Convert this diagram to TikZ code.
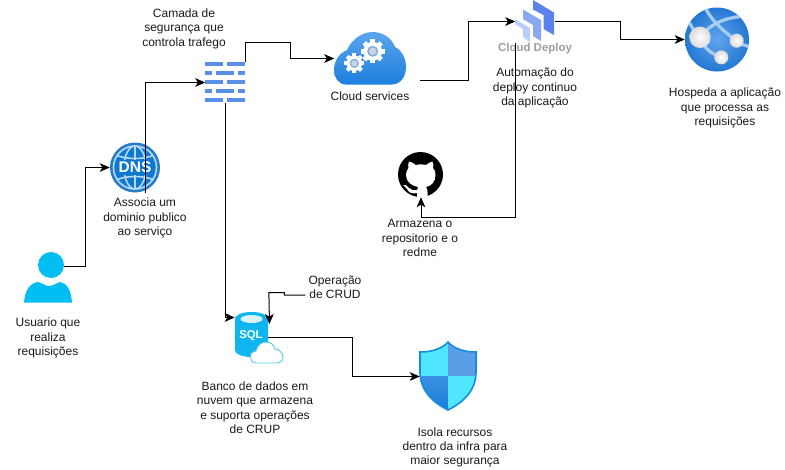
\documentclass[tikz,border=0pt]{standalone}
\usepackage{fontspec}
\setmainfont{Liberation Sans}
\usetikzlibrary{arrows.meta}
\definecolor{ink}{HTML}{1A1A1A}
\definecolor{wall}{HTML}{5A8FE8}
\definecolor{usr}{HTML}{00BEF2}
\definecolor{sqlc}{HTML}{0FB5EE}
\definecolor{dnsa}{HTML}{2A7CC8}
\definecolor{dnsb}{HTML}{0F78D0}
\definecolor{dnsc}{HTML}{B5D9F2}
\definecolor{clouda}{HTML}{5CA5EC}
\definecolor{cloudb}{HTML}{1D7FDE}
\definecolor{geara}{HTML}{7FA8D8}
\definecolor{gearb}{HTML}{C8D4E4}
\definecolor{depa}{HTML}{5B82EC}
\definecolor{depb}{HTML}{8AA8F2}
\definecolor{depc}{HTML}{BACEFB}
\definecolor{weba}{HTML}{2378D2}
\definecolor{webb}{HTML}{62A4F0}
\definecolor{webc}{HTML}{A8CDF2}
\definecolor{shc}{HTML}{50E6FF}
\definecolor{shb}{HTML}{5B9EE8}
\definecolor{shd}{HTML}{1A7FD8}
\definecolor{she}{HTML}{3A90E2}
\tikzset{
 x=0.75pt,y=-0.75pt,
 lbl/.style={align=center,inner sep=0pt,text=ink,font=\fontsize{9}{10.8}\selectfont},
 iconbox/.style 2 args={inner sep=0pt,minimum width=#1*0.75pt,minimum height=#2*0.75pt},
 conn/.style={draw=black,line width=0.75pt,-{Stealth[length=7.5pt,width=6.5pt,inset=2pt]}},
 band/.style={webc,line width=2.4pt},
}
\newcommand{\gearicon}[3]{%
 \foreach \a in {0,45,90,135}{\fill[white,shift={(#1,#2)},rotate=\a] (-#3*0.2,-#3) rectangle (#3*0.2,#3);}
 \fill[white] (#1,#2) circle (#3*0.78);
 \fill[geara] (#1,#2) circle (#3*0.46);
 \fill[gearb] (#1,#2) circle (#3*0.32);
}
\begin{document}
\begin{tikzpicture}
\useasboundingbox (0,0) rectangle (785,469);
\fill[white] (0,0) rectangle (785,469);

% ---- user
\fill[usr] (51,265) circle (13);
\fill[usr] (24,302.5) .. controls (25,290) and (30,283) .. (38,282) .. controls (42,283) and (46,286) .. (49,286) .. controls (53,286) and (56,283) .. (60,282) .. controls (67,283) and (71,290) .. (72,302.5) -- cycle;
\node[iconbox={48}{51}] (user) at (48,277.5) {};

% ---- DNS
\fill[dnsa] (135,167.5) circle (25);
\fill[dnsb] (135,167.5) circle (21.5);
\begin{scope}[draw=dnsc,line width=1.2pt]
\draw (135,167.5) circle (21.5);
\draw (135,167.5) ellipse (11 and 21.5);
\draw (135,146) -- (135,189);
\draw (117,155.5) .. controls (128,159.5) and (142,159.5) .. (153,155.5);
\draw (117,179.5) .. controls (128,175.5) and (142,175.5) .. (153,179.5);
\end{scope}
\fill[dnsb] (117,160) rectangle (153,175);
\node[inner sep=0pt,text=white,font=\bfseries\fontsize{11.6}{12}\selectfont] (dnstext) at (135,167.5) {DNS};
\node[iconbox={50}{50}] (dns) at (135,167.5) {};

% ---- firewall
\begin{scope}[wall]
\fill (205,62) rectangle (223,66);\fill (227,62) rectangle (245,66);
\fill (205,71) rectangle (212,75);\fill (216,71) rectangle (234,75);\fill (238,71) rectangle (245,75);
\fill (205,80) rectangle (223,84);\fill (227,80) rectangle (245,84);
\fill (205,89) rectangle (212,93);\fill (216,89) rectangle (234,93);\fill (238,89) rectangle (245,93);
\fill (205,97.5) rectangle (223,102);\fill (227,97.5) rectangle (245,102);
\end{scope}
\node[iconbox={40}{40}] (firewall) at (225.5,82.5) {};

% ---- cloud services
\shade[top color=clouda,bottom color=cloudb]
 (346,84.5) .. controls (338,84.5) and (334,77) .. (334,70) .. controls (334,60) and (340,53) .. (347,50)
 .. controls (352,39) and (362,32) .. (373,32) .. controls (384,32) and (392,39) .. (395,47)
 .. controls (402,50) and (406,59) .. (406,67) .. controls (406,77) and (400,84.5) .. (392,84.5) -- cycle;
\gearicon{372.7}{51.3}{12}
\gearicon{354.3}{63.3}{10}
\node[iconbox={71}{52}] (cloud) at (370,58.5) {};

% ---- deploy
\fill[depa] (533,0) -- (554,12.5) -- (554,35) -- (543.5,29) -- (543.5,15) -- (533,9.5) -- cycle;
\fill[depb] (523,9.5) -- (541,20) -- (541,41) -- (533,36) -- (533,25) -- (523,19) -- cycle;
\fill[depc] (515,19) -- (530,28) -- (530,42) -- (523,37) -- (523,29) -- (515,24) -- cycle;
\node[iconbox={39}{42}] (deploy) at (535,21.5) {};
\node[lbl,text=black!38,font=\bfseries\fontsize{8.6}{10}\selectfont] (deploytext) at (535,49) {Cloud Deploy};

% ---- web app
\shade[inner color=webb,outer color=weba] (717,39.5) circle (32);
\begin{scope}
\clip (717,39.5) circle (32);
\draw[band] (704,5) .. controls (708,15) and (718,28) .. (736.7,40.7);
\draw[band] (700,37.3) .. controls (712,22) and (728,16) .. (752,16);
\draw[band] (689,22) .. controls (692,28) and (696,33) .. (700,37.3);
\draw[band] (700,37.3) .. controls (703,48) and (712,54) .. (721.3,57.3);
\draw[band] (736.7,40.7) .. controls (740,44) and (745,46) .. (752,47);
\end{scope}
\shade[inner color=white,outer color=white!86!black] (700,37.3) circle (10.7);
\shade[inner color=white,outer color=white!86!black] (736.7,40.7) circle (7);
\shade[inner color=white,outer color=white!86!black] (721.3,57.3) circle (7);
\node[iconbox={64}{64}] (webapp) at (717,39.5) {};

% ---- github
\fill[black] (420.5,174.5) circle (22.5);
\fill[white] (409,161.5) .. controls (412,162) and (414,163.5) .. (415.5,165) .. controls (418.5,164.2) and (423,164.2) .. (426,165) .. controls (428,163.5) and (430,162) .. (432.5,161.5) .. controls (433.5,164) and (433.5,166) .. (433,168) .. controls (435,170) and (435.5,172) .. (435.5,175) .. controls (435.5,182) and (431,186) .. (426,187) .. controls (427,188) and (427.5,190) .. (427.5,192) -- (427.5,197.5) -- (417,197.5) -- (417,193) .. controls (412,194) and (409,193) .. (407,189) .. controls (406,187) and (404,186) .. (403,185) .. controls (405,184) and (407,185.5) .. (409,188) .. controls (411,190.5) and (414,190.5) .. (417,190) .. controls (417,189) and (417,188) .. (418,187) .. controls (412,186) and (406,182) .. (406,175) .. controls (406,172) and (407,170) .. (408.5,168) .. controls (408,166) and (408,164) .. (409,161.5) -- cycle;
\node[iconbox={45}{45}] (github) at (421,174.5) {};

% ---- SQL
\fill[sqlc] (235,319) -- (235,350) .. controls (235,354) and (242,357) .. (251.5,357) .. controls (261,357) and (268,354) .. (268,350) -- (268,319) .. controls (268,315) and (261,312) .. (251.5,312) .. controls (242,312) and (235,315) .. (235,319) -- cycle;
\fill[white!85!cyan] (251.5,319) ellipse (11 and 4);
\node[inner sep=0pt,text=white,font=\bfseries\fontsize{8.5}{10}\selectfont] (sqltext) at (251,336) {SQL};
\filldraw[fill=white,draw=sqlc!70!white,line width=0.7pt]
 (256,363) .. controls (252,363) and (250.5,360) .. (250.5,357) .. controls (250.5,353) and (253,351) .. (256,351)
 .. controls (257,345) and (262,342) .. (266,342) .. controls (271,342) and (274,345) .. (275,349)
 .. controls (279,349) and (283,353) .. (283,357) .. controls (283,361) and (280,363) .. (277,363) -- cycle;
\node[iconbox={48}{51}] (sql) at (259,337) {};

% ---- shield
\begin{scope}
\clip (448,342) .. controls (442,349) and (431,352) .. (420,352) -- (420,372) .. controls (420,390) and (432,402) .. (448,410) .. controls (464,402) and (476,390) .. (476,372) -- (476,352) .. controls (465,352) and (454,349) .. (448,342) -- cycle;
\fill[shc] (420,342) rectangle (448,376);
\fill[shb] (448,342) rectangle (476,376);
\shade[top color=she,bottom color=shd] (420,376) rectangle (448,410);
\fill[shc] (448,376) rectangle (476,410);
\end{scope}
\draw[shd!90!cyan,line width=1.2pt] (448,342) .. controls (442,349) and (431,352) .. (420,352) -- (420,372) .. controls (420,390) and (432,402) .. (448,410) .. controls (464,402) and (476,390) .. (476,372) -- (476,352) .. controls (465,352) and (454,349) .. (448,342) -- cycle;
\node[iconbox={56}{68}] (shield) at (448,376.5) {};

% ---- labels
\node[lbl] (lcam) at (184,28.5) {Camada de\\segurança que\\controla trafego};
\node[lbl] (lassoc) at (145,218) {Associa um\\dominio publico\\ao serviço};
\node[lbl] (luser) at (48,338) {Usuario que\\realiza\\requisições};
\node[lbl] (lcloud) at (370,96) {Cloud services};
\node[lbl] (lauto) at (535,88) {Automação do\\deploy continuo\\da aplicação};
\node[lbl] (lhost) at (725,108) {Hospeda a aplicação\\que processa as\\requisições};
\node[lbl] (larm) at (420,238) {Armazena o\\repositorio e o\\redme};
\node[lbl] (crud) at (335,287.5) {Operação\\de CRUD};
\node[lbl] (lbanco) at (255,407.5) {Banco de dados em\\nuvem que armazena\\e suporta operações\\de CRUP};
\node[lbl] (lisola) at (455,447.5) {Isola recursos\\dentro da infra para\\maior segurança};

% ---- connectors
\draw[conn] ([shift={(16,-11)}]user.center) -- ++(21.5,0) |- (dns.west);
\draw[conn] ([shift={(10.5,0)}]dns.south) |- (firewall.west);
\draw[conn] (firewall.north east) -- ++(0,-20) -- ++(44.5,0) |- (cloud.west);
\draw[conn] ([shift={(14.5,21.5)}]cloud.east) -- ++(48,0) |- (deploy.west);
\draw[conn] (deploy.east) -- ++(65.5,0) |- (webapp.west);
\draw[conn] (deploy.south west) -- ++(0,175) -| (github.south);
\draw[conn] (firewall.south) |- ([shift={(0,-19.5)}]sql.west);
\draw[conn] ([shift={(-3,7.5)}]crud.west) -- ++(-21,0) -- ++(0,-2.5) -- ++(-15.5,0) -- ([shift={(10.5,-13)}]sql.center);
\draw[conn] ([shift={(9,0)}]sql.center) -- ++(84,0) |- (shield.west);
\end{tikzpicture}
\end{document}
